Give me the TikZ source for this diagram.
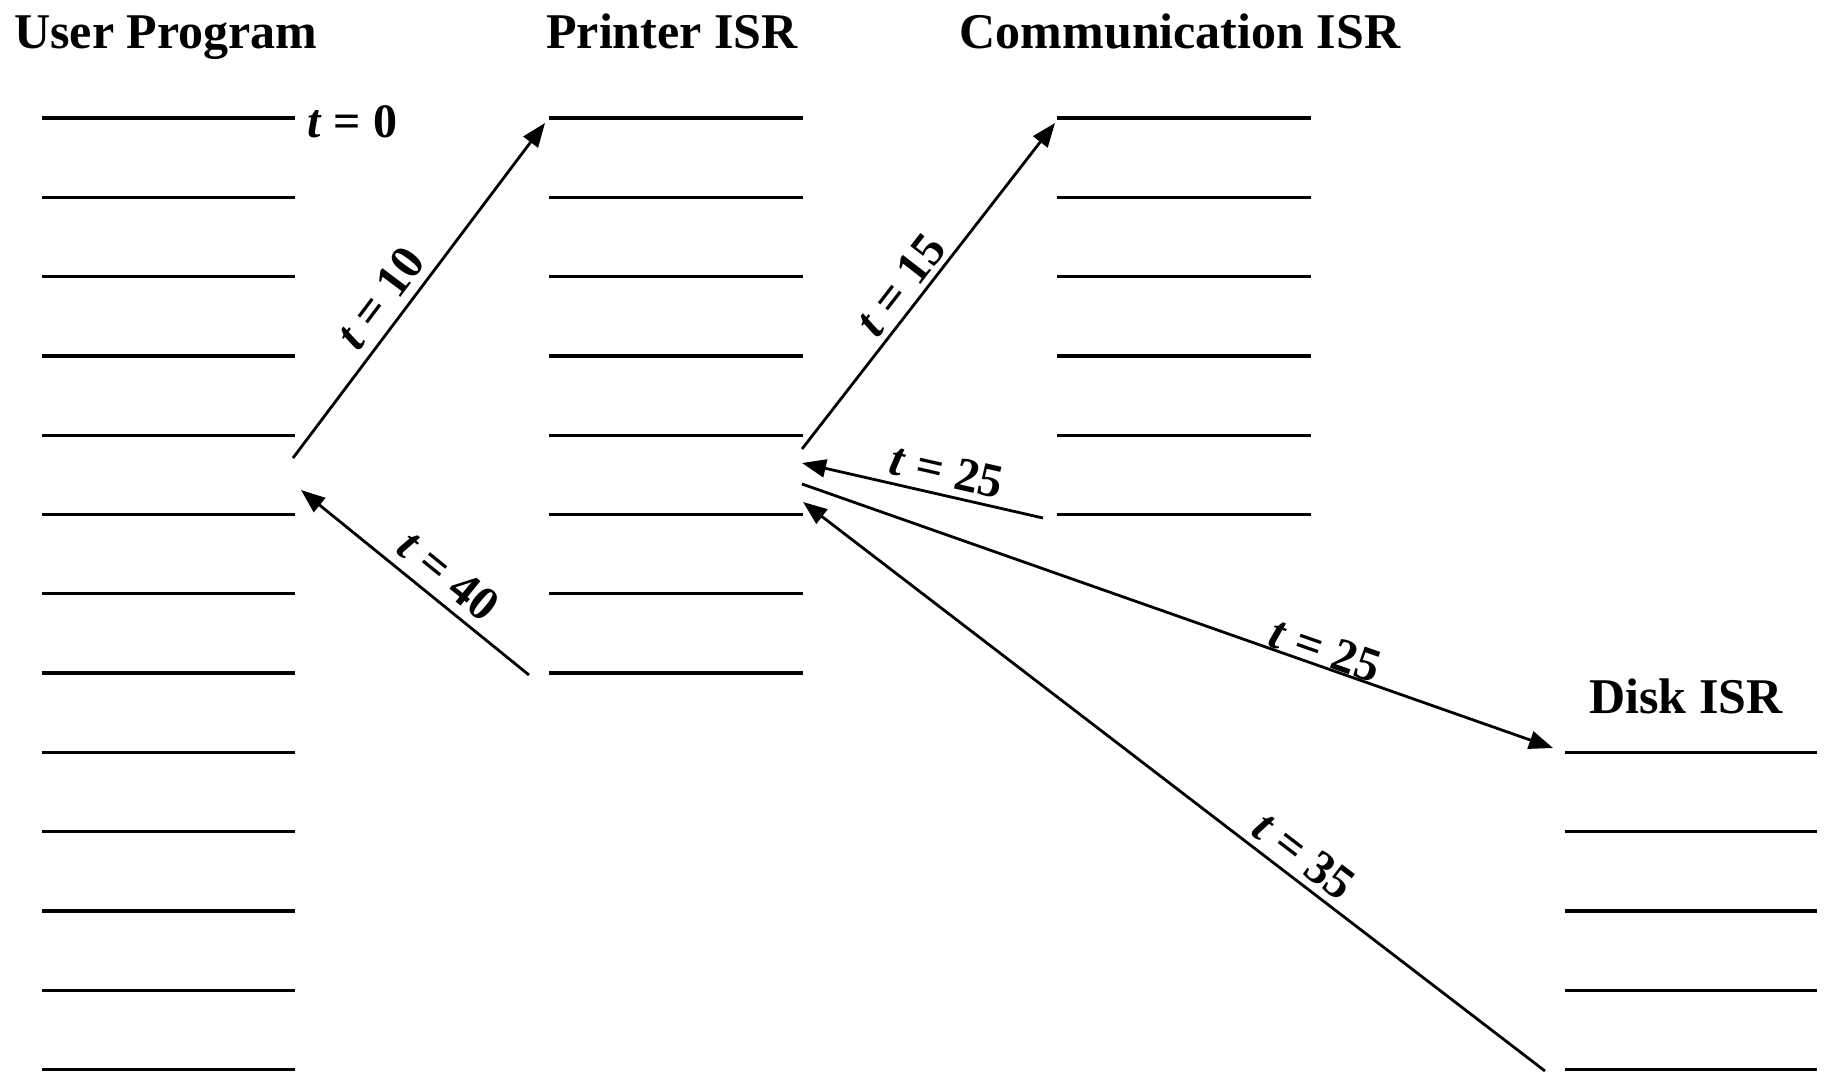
\documentclass[tikz,border=0pt]{standalone}
\usepackage{fontspec}
\setmainfont{Liberation Serif}
\usetikzlibrary{arrows.meta}
\begin{document}
\begin{tikzpicture}[x=1pt,y=-1pt,
  rung/.style={line width=3.3pt},
  flow/.style={line width=2.8pt,-{Triangle[length=24pt,width=18pt]}},
  title/.style={font=\fontsize{50}{58}\selectfont\bfseries,anchor=base,inner sep=0pt},
  tlabel/.style={font=\fontsize{48}{56}\selectfont\bfseries,sloped,inner sep=0pt}]
\useasboundingbox (0,0) rectangle (1828,1076);
\fill[white] (0,0) rectangle (1828,1076);

% titles
\node[title] (tUser) at (166,48) {User Program};
\node[title] (tPrinter) at (672,48) {Printer ISR};
\node[title] (tComm) at (1180,48) {Communication ISR};
\node[title] (tDisk) at (1686,713) {Disk ISR};

% instruction lines
\foreach \k in {0,...,12} \draw[rung] (42,{118+79.3*\k}) -- (295,{118+79.3*\k});
\foreach \k in {0,...,7} \draw[rung] (549,{118+79.3*\k}) -- (803,{118+79.3*\k});
\foreach \k in {0,...,5} \draw[rung] (1057,{118+79.3*\k}) -- (1311,{118+79.3*\k});
\foreach \k in {8,...,12} \draw[rung] (1565,{118+79.3*\k}) -- (1817,{118+79.3*\k});

\node[font=\fontsize{48}{56}\selectfont\bfseries,anchor=base west,inner sep=0pt] (t0) at (307,137) {\textit{t} = 0};

% arrow end points
\coordinate (u1) at (293,458);
\coordinate (p1) at (545,123);
\coordinate (p2) at (529,675);
\coordinate (u2) at (301,490);
\coordinate (p3) at (802,449);
\coordinate (c1) at (1055,123);
\coordinate (c2) at (1043,518);
\coordinate (p4) at (802,463);
\coordinate (p5) at (802,484);
\coordinate (d1) at (1553,748);
\coordinate (d2) at (1545,1071);
\coordinate (p6) at (803,502);

\draw[flow] (u1) -- node[tlabel,pos=0.43,above=9pt] (l10) {\textit{t} = 10} (p1);
\draw[flow] (p2) -- node[tlabel,pos=0.427,above=9pt] (l40) {\textit{t} = 40} (u2);
\draw[flow] (p3) -- node[tlabel,pos=0.461,above=5.5pt] (l15) {\textit{t} = 15} (c1);
\draw[flow] (c2) -- node[tlabel,pos=0.422,above=7pt] (l25a) {\textit{t} = 25} (p4);
\draw[flow] (p5) -- node[tlabel,pos=0.689,above=0pt] (l25b) {\textit{t} = 25} (d1);
\draw[flow] (d2) -- node[tlabel,pos=0.345,above=7pt] (l35) {\textit{t} = 35} (p6);
\end{tikzpicture}
\end{document}
